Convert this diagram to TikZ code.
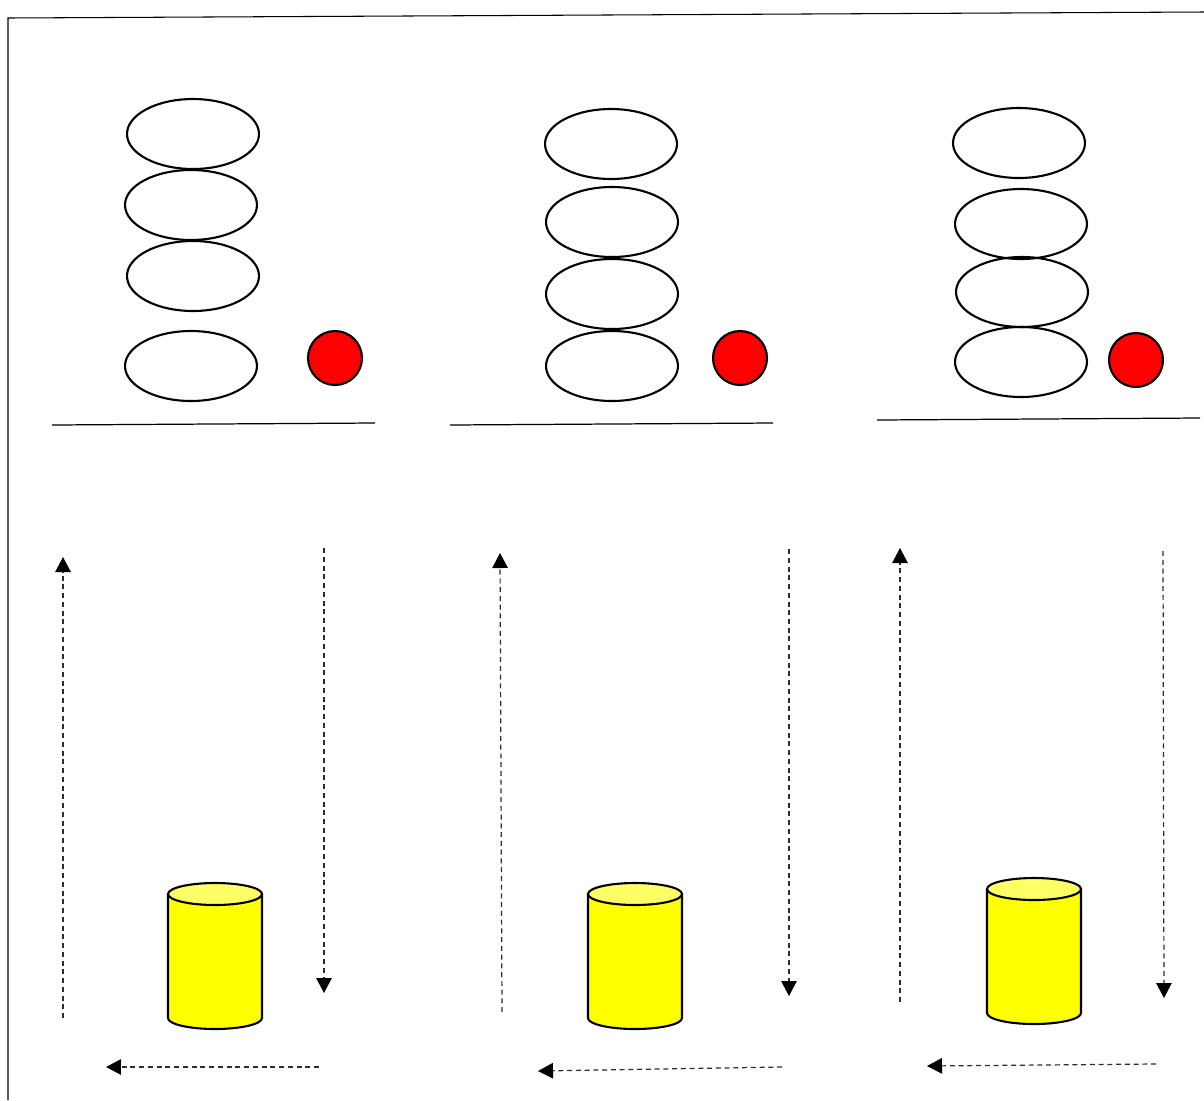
\documentclass[tikz,border=0pt]{standalone}
\usetikzlibrary{shapes.geometric,arrows.meta}
\definecolor{canbody}{RGB}{255,255,0}
\definecolor{cantop}{RGB}{255,255,102}
\definecolor{dashgray}{RGB}{45,45,45}
\begin{document}
\begin{tikzpicture}[x=0.02cm, y=-0.02cm,
  ring/.style={draw,ellipse,line width=1.2pt,minimum width=2.64cm,minimum height=1.4cm,inner sep=0pt},
  ball/.style={draw,circle,fill=red,line width=1.2pt,minimum size=1.08cm,inner sep=0pt},
  flow/.style={-{Triangle[length=0.3cm,width=0.31cm,color=black]},dash pattern=on 0.1cm off 0.075cm,dashgray,line width=0.7pt},
  pics/can/.style={code={
    \draw[line width=1.2pt,fill=canbody] (-47,0) -- (-47,124) arc[start angle=180,end angle=0,x radius=47,y radius=11] -- (47,0);
    \draw[line width=1.2pt,fill=cantop] (0,0) ellipse[x radius=47,y radius=11];
  }}]
\useasboundingbox (0,0) rectangle (1204,1100);
% frame
\draw[line width=0.6pt] (8,1100) -- (8,18) -- (1204,12);
% left stack
\node[ring] (r11) at (193,134) {};
\node[ring] (r12) at (191,205) {};
\node[ring] (r13) at (193,276) {};
\node[ring] (r14) at (191,366) {};
\node[ball] (b1) at (335,358) {};
\draw[line width=0.7pt] (52,425) -- (375,423);
% middle stack
\node[ring] (r21) at (611,144) {};
\node[ring] (r22) at (612,222) {};
\node[ring] (r23) at (612,294) {};
\node[ring] (r24) at (612,366) {};
\node[ball] (b2) at (740,358) {};
\draw[line width=0.7pt] (450,425) -- (773,423);
% right stack
\node[ring] (r31) at (1019,143) {};
\node[ring] (r32) at (1021,224) {};
\node[ring] (r33) at (1022,292) {};
\node[ring] (r34) at (1021,362) {};
\node[ball] (b3) at (1136,360) {};
\draw[line width=0.7pt] (877,420) -- (1200,418);
% cans
\pic at (215,894) {can};
\pic at (635,894) {can};
\pic at (1034,889) {can};
% dashed loops
\coordinate (rise1a) at (63,1018);   \coordinate (rise1b) at (63,557);
\coordinate (fall1a) at (324,548);   \coordinate (fall1b) at (324,993);
\coordinate (back1a) at (319,1067);  \coordinate (back1b) at (106,1067);
\coordinate (rise2a) at (502,1012);  \coordinate (rise2b) at (500,553);
\coordinate (fall2a) at (789,549);   \coordinate (fall2b) at (789,996);
\coordinate (back2a) at (782,1067);  \coordinate (back2b) at (538,1071);
\coordinate (rise3a) at (900,1002);  \coordinate (rise3b) at (900,548);
\coordinate (fall3a) at (1163,551);  \coordinate (fall3b) at (1164,998);
\coordinate (back3a) at (1156,1064); \coordinate (back3b) at (927,1066);
\draw[flow] (rise1a) -- (rise1b);
\draw[flow] (fall1a) -- (fall1b);
\draw[flow] (back1a) -- (back1b);
\draw[flow] (rise2a) -- (rise2b);
\draw[flow] (fall2a) -- (fall2b);
\draw[flow] (back2a) -- (back2b);
\draw[flow] (rise3a) -- (rise3b);
\draw[flow] (fall3a) -- (fall3b);
\draw[flow] (back3a) -- (back3b);
\end{tikzpicture}
\end{document}
